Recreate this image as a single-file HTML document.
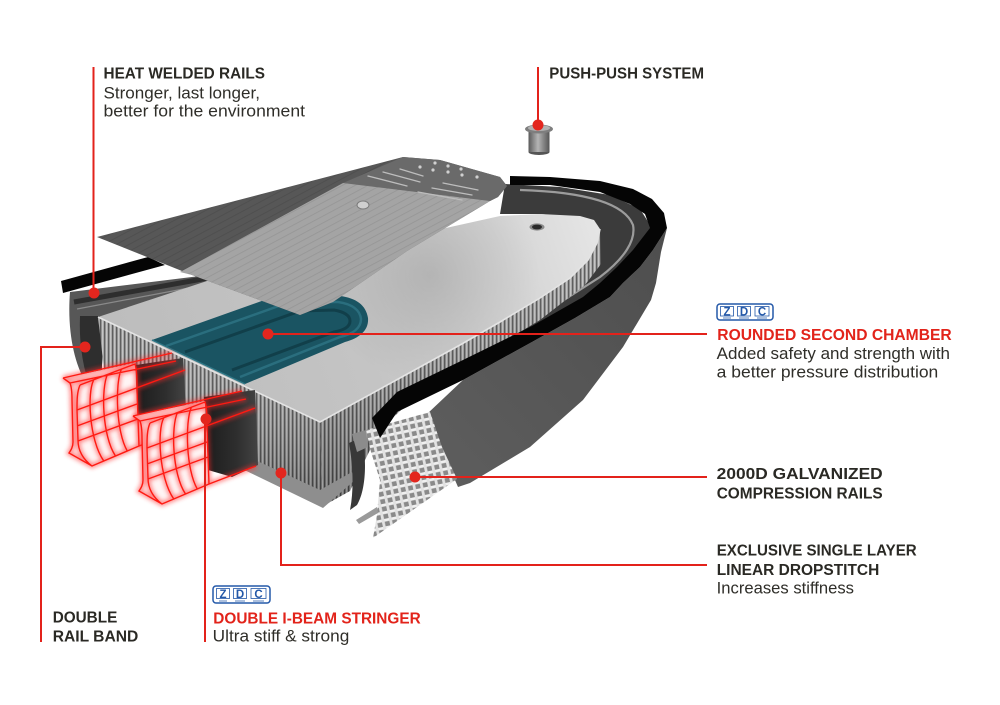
<!DOCTYPE html>
<html><head><meta charset="utf-8"><style>
html,body{margin:0;padding:0;background:#fff;}
svg{display:block;}
text{font-family:"Liberation Sans",Arial,sans-serif;}
.h{font-weight:bold;font-size:16px;fill:#2a2924;}
.r{fill:#e2231a;}
.b{font-size:16.5px;fill:#2f2e29;}
</style></head><body>
<svg width="1000" height="705" viewBox="0 0 1000 705" xmlns="http://www.w3.org/2000/svg">
<defs>
  <pattern id="stripes" width="4" height="20" patternUnits="userSpaceOnUse">
    <rect width="4" height="20" fill="#979797"/>
    <rect x="0" width="1.2" height="20" fill="#505050"/>
    <rect x="2.2" width="1" height="20" fill="#cdcdcd"/>
  </pattern>
  <pattern id="mesh" width="7.5" height="7.5" patternUnits="userSpaceOnUse" patternTransform="rotate(-12)">
    <rect width="7.5" height="7.5" fill="#8a8a8a"/>
    <rect y="2.5" width="7.5" height="2.8" fill="#f0f0f0"/>
    <rect x="2.5" width="2.8" height="7.5" fill="#e2e2e2"/>
  </pattern>
  <pattern id="padlines" width="6" height="6" patternUnits="userSpaceOnUse" patternTransform="rotate(-28)">
    <rect width="6" height="6" fill="#a4a4a4"/>
    <rect y="0" width="6" height="0.8" fill="#959595"/>
  </pattern>
  <pattern id="padlinesD" width="6" height="6" patternUnits="userSpaceOnUse" patternTransform="rotate(-28)">
    <rect width="6" height="6" fill="#575757"/>
    <rect y="0" width="6" height="0.8" fill="#4d4d4d"/>
  </pattern>
  <linearGradient id="ct" x1="100" y1="390" x2="600" y2="220" gradientUnits="userSpaceOnUse">
    <stop offset="0" stop-color="#bcbcbc"/>
    <stop offset="0.5" stop-color="#c4c4c4"/>
    <stop offset="0.8" stop-color="#d4d4d4"/>
    <stop offset="1" stop-color="#e6e6e6"/>
  </linearGradient>
  <radialGradient id="ctShade" cx="430" cy="275" r="110" gradientUnits="userSpaceOnUse">
    <stop offset="0" stop-color="#000" stop-opacity="0.12"/>
    <stop offset="1" stop-color="#000" stop-opacity="0"/>
  </radialGradient>
  <linearGradient id="sideShade" x1="0" y1="0" x2="0" y2="1">
    <stop offset="0" stop-color="#fff" stop-opacity="0.08"/>
    <stop offset="1" stop-color="#000" stop-opacity="0.28"/>
  </linearGradient>
  <linearGradient id="valve" x1="0" y1="0" x2="1" y2="0">
    <stop offset="0" stop-color="#5a5a5a"/>
    <stop offset="0.45" stop-color="#b4b4b4"/>
    <stop offset="1" stop-color="#555"/>
  </linearGradient>
  <linearGradient id="body" x1="0" y1="0" x2="1" y2="0">
    <stop offset="0" stop-color="#1c1c1c"/>
    <stop offset="0.6" stop-color="#2e2e2e"/>
    <stop offset="1" stop-color="#444"/>
  </linearGradient>
  <linearGradient id="shellG" x1="0" y1="1" x2="1" y2="0">
    <stop offset="0" stop-color="#5e5e5e"/>
    <stop offset="1" stop-color="#4e4e4e"/>
  </linearGradient>
  <filter id="glow" x="-30%" y="-30%" width="160%" height="160%">
    <feGaussianBlur stdDeviation="2.2"/>
  </filter>
  <path id="wfFill" d="M63,378 L135,363 L139,446 L92,466 L69,453 C73,440 73,398 70,384 Z"/>
  <path id="wfLines" fill="none" d="M63,378 L70,383 C72,388 72,395 72,400 L73,442 C73,447 71,450 69,453 L92,466 L139,446
    M63,378 L172,353
    M70,383 L176,361
    M80,385 C77,392 77,400 77,410 L78,440 C78,452 84,460 92,466
    M80,385 L135,364 C137,370 137,380 137,390 L139,446
    M93.8,379.8 C87,392 89,440 103.8,461
    M107.5,374.5 C101,388 102,436 115.5,456
    M121.3,369.3 C115,384 116,432 127.3,451
    M77,410 L185,370
    M77,426 L137,404
    M78,441 L138,419
    M139,446 L186,428"/>
</defs>

<!-- outer shell -->
<path d="M427,414 L463,380 L532,342 L575,318 L610,297 L623,283 L640,267 L653,250 L667,228 L661,252 L656,283 L651,300 L623,347 L583,400 L530,447 L470,483 L458,487 L442,450 Z" fill="url(#shellG)"/>

<!-- inner dark region -->
<path d="M505,184 L560,187 L610,195 L640,209 L652,228 L636,250 L620,267 L603,283 L585,297 L532,328 L463,362 L397,394 L370,420 L345,445 L330,430 L400,380 L500,322 L560,285 L596,245 L598,226 L585,218 L540,214 L500,214 Z" fill="#3b3b3b"/>
<path d="M520,190 C590,192 625,205 633,225 C636,240 625,258 600,277 L545,312 L470,350 L400,386 L370,410" fill="none" stroke="#9c9c9c" stroke-width="2.2"/>

<!-- left shell -->
<path d="M70,292 L208,275 L214,283 L100,318 L103,350 L101,382 L85,381 C74,362 67,330 70,292 Z" fill="#575757"/>
<path d="M80,316 L100,316 L103,350 L101,380 L88,381 C82,362 79,340 80,316 Z" fill="#2e2e2e"/>
<path d="M74,302 L208,278" stroke="#2e2e2e" stroke-width="5"/>
<path d="M77,309 L210,284" stroke="#8a8a8a" stroke-width="1.2"/>
<!-- black strip left -->
<path d="M61,281 L148,257 L165,265 L63,293 Z" fill="#050505"/>

<!-- core side face -->
<path d="M320,422 L400,378 L460,345 L500,322 L540,298 L570,278 L588,260 L597,243 L600,230 L601,264 L585,285 L540,320 L480,356 L420,392 L380,430 L360,470 L350,491 L323,506 Z" fill="url(#stripes)"/>
<path d="M320,422 L400,378 L460,345 L500,322 L540,298 L570,278 L588,260 L597,243 L600,230 L601,264 L585,285 L540,320 L480,356 L420,392 L380,430 L360,470 L350,491 L323,506 Z" fill="url(#sideShade)"/>
<!-- core front face -->
<path d="M98,317 L320,422 L323,506 L108,404 Z" fill="url(#stripes)"/>
<path d="M98,317 L320,422 L323,506 L108,404 Z" fill="url(#sideShade)"/>
<!-- bottom plate -->
<path d="M108,392 L320,490 L352,472 L355,480 L323,508 L108,404 Z" fill="#8e8e8e"/>

<!-- core top -->
<path d="M98,317 L207,281 L500,216 L540,214 L580,216 L594,220 L600,229 L597,243 L588,260 L570,278 L540,298 L500,322 L460,345 L400,378 L320,422 Z" fill="url(#ct)"/>
<path d="M98,317 L207,281 L500,216 L540,214 L580,216 L594,220 L600,229 L597,243 L588,260 L570,278 L540,298 L500,322 L460,345 L400,378 L320,422 Z" fill="url(#ctShade)"/>
<path d="M98,317 L320,422 L400,378 L460,345 L500,322 L540,298 L570,278 L588,260 L597,243 L600,229" fill="none" stroke="#e4e4e4" stroke-width="1.6"/>
<ellipse cx="537" cy="227" rx="7.5" ry="3.6" fill="#8a8a8a"/>
<ellipse cx="537" cy="227" rx="5" ry="2.4" fill="#2a2a2a"/>

<!-- teal chamber -->
<path d="M152,340 L270,298 L340,296 C356,298 366,305 368,318 C369,330 360,338 345,342 L245,384 Z" fill="#1a5462"/>
<path d="M166,346 L290,302 L338,302 C352,304 360,310 361,319 C361,328 353,334 340,337 L240,377" fill="none" stroke="#2a6e7e" stroke-width="2.5"/>
<path d="M185,352 L300,311 L334,310 C345,312 350,316 350,321 C350,327 344,330 334,332 L232,370" fill="none" stroke="#113f4a" stroke-width="3"/>
<path d="M152,340 L245,384" stroke="#2f7786" stroke-width="1.5"/>

<!-- deck pad -->
<path d="M97,237 L403,157 L440,160 L500,177 L507,186 L498,197 L490,201 L407,251 L333,302 L300,315 L192,275 L167,265 Z" fill="url(#padlinesD)"/>
<path d="M343,183 L403,157 L440,160 L500,177 L507,186 L498,197 L490,201 Z" fill="#6a6a6a"/>
<path d="M180,272 L343,183 L490,201 L407,251 L333,302 L300,315 L192,275 Z" fill="url(#padlines)"/>
<g stroke="#bdbdbd" stroke-width="1.3" stroke-linecap="round">
  <line x1="368" y1="176" x2="407" y2="186"/>
  <line x1="383" y1="172" x2="420" y2="182"/>
  <line x1="400" y1="169" x2="423" y2="176"/>
  <line x1="418" y1="192" x2="462" y2="200"/>
  <line x1="432" y1="188" x2="472" y2="195"/>
  <line x1="443" y1="183" x2="478" y2="190"/>
</g>
<g fill="#d0d0d0">
  <circle cx="420" cy="167" r="1.6"/><circle cx="433" cy="170" r="1.6"/><circle cx="448" cy="172" r="1.6"/>
  <circle cx="462" cy="175" r="1.6"/><circle cx="477" cy="177" r="1.6"/><circle cx="435" cy="163" r="1.6"/>
  <circle cx="448" cy="166" r="1.6"/><circle cx="461" cy="169" r="1.6"/>
</g>
<ellipse cx="363" cy="205" rx="6" ry="4" fill="#cfcfcf" stroke="#7a7a7a" stroke-width="1"/>

<!-- mesh and flaps -->
<path d="M366,430 L430,412 L442,447 L457,479 L373,538 L377,515 L380,480 L371,452 Z" fill="url(#mesh)"/>
<path d="M349,443 L362,437 C367,460 366,490 357,505 L350,510 C354,490 353,465 349,443 Z" fill="#383838"/>
<path d="M352,434 L366,430 L368,447 L357,452 Z" fill="#8c8c8c"/>
<path d="M356,520 L377,507 L378,513 L359,524 Z" fill="#9a9a9a"/>

<!-- black band -->
<path d="M510,176 L550,177 L600,181 L633,189 L652,199 L664,213 L667,228 L653,250 L640,267 L623,283 L610,297 L575,318 L532,342 L463,380 L397,412 L380,438 L372,418 L397,392 L463,360 L532,326 L583,297 L600,283 L617,267 L633,250 L650,228 L645,214 L630,204 L600,192 L550,185 L510,185 Z" fill="#050505"/>

<!-- I-beam bodies -->
<path d="M136,365 L183,358 L186,412 L150,432 L138,420 Z" fill="url(#body)"/>
<path d="M204,397 L255,390 L258,465 L232,477 L208,470 Z" fill="url(#body)"/>

<!-- wireframe 1 -->
<use href="#wfFill" fill="#fff4f4"/>
<use href="#wfLines" stroke="#ff2a2a" stroke-width="4.5" opacity="0.55" filter="url(#glow)"/>
<use href="#wfLines" stroke="#ff1a12" stroke-width="1.4"/>
<!-- wireframe 2 -->
<g transform="translate(70,38)">
  <use href="#wfFill" fill="#fff4f4"/>
  <use href="#wfLines" stroke="#ff2a2a" stroke-width="4.5" opacity="0.55" filter="url(#glow)"/>
  <use href="#wfLines" stroke="#ff1a12" stroke-width="1.4"/>
</g>

<!-- push valve -->
<ellipse cx="539" cy="152" rx="10.5" ry="3" fill="#555"/>
<rect x="528.5" y="131" width="21" height="21" fill="url(#valve)"/>
<ellipse cx="539" cy="129" rx="14" ry="4.5" fill="#7e7e7e"/>
<ellipse cx="539" cy="128" rx="11" ry="3" fill="#b2b2b2"/>

<!-- callout lines -->
<g stroke="#e3221b" stroke-width="2" fill="none">
  <path d="M93.5,67 L93.5,293"/>
  <path d="M538,67 L538,125"/>
  <path d="M268,334 L707,334"/>
  <path d="M415,477 L707,477"/>
  <path d="M281,473 L281,565 L707,565"/>
  <path d="M85,347 L41,347 L41,642"/>
  <path d="M205,419 L205,642"/>
</g>
<g fill="#e3261e">
  <circle cx="94" cy="293" r="5.5"/>
  <circle cx="538" cy="125" r="5.5"/>
  <circle cx="268" cy="334" r="5.5"/>
  <circle cx="415" cy="477" r="5.5"/>
  <circle cx="281" cy="473" r="5.5"/>
  <circle cx="85" cy="347" r="5.5"/>
  <circle cx="206" cy="419" r="5.5"/>
</g>

<!-- ZDC logos -->
<g>
  <rect x="717" y="304" width="56" height="16" rx="3" fill="#fff" stroke="#2458a8" stroke-width="1.5"/>
  <rect x="720.5" y="306.5" width="13" height="9.5" fill="none" stroke="#2458a8" stroke-width="0.8"/>
  <rect x="737.5" y="306.5" width="13" height="9.5" fill="none" stroke="#2458a8" stroke-width="0.8"/>
  <rect x="755" y="306.5" width="14" height="9.5" fill="none" stroke="#2458a8" stroke-width="0.8"/>
  <text x="727" y="315.5" text-anchor="middle" font-size="11.5" font-weight="bold" fill="#2458a8">Z</text>
  <text x="744" y="315.5" text-anchor="middle" font-size="11.5" font-weight="bold" fill="#2458a8">D</text>
  <text x="762" y="315.5" text-anchor="middle" font-size="11.5" font-weight="bold" fill="#2458a8">C</text>
  <path d="M723,318 L731,318 M739,318 L749,318 M757,318 L767,318" stroke="#2458a8" stroke-width="0.8"/>
</g>
<g>
  <rect x="213" y="586" width="57" height="17" rx="3" fill="#fff" stroke="#2458a8" stroke-width="1.5"/>
  <rect x="216.5" y="588.5" width="13" height="10" fill="none" stroke="#2458a8" stroke-width="0.8"/>
  <rect x="233.5" y="588.5" width="13" height="10" fill="none" stroke="#2458a8" stroke-width="0.8"/>
  <rect x="251" y="588.5" width="15" height="10" fill="none" stroke="#2458a8" stroke-width="0.8"/>
  <text x="223" y="598" text-anchor="middle" font-size="11.5" font-weight="bold" fill="#2458a8">Z</text>
  <text x="240" y="598" text-anchor="middle" font-size="11.5" font-weight="bold" fill="#2458a8">D</text>
  <text x="258.5" y="598" text-anchor="middle" font-size="11.5" font-weight="bold" fill="#2458a8">C</text>
  <path d="M219,601 L227,601 M235,601 L245,601 M253,601 L264,601" stroke="#2458a8" stroke-width="0.8"/>
</g>

<!-- labels -->
<text class="h" x="103.5" y="78.3" textLength="161.5" lengthAdjust="spacingAndGlyphs">HEAT WELDED RAILS</text>
<text class="b" x="103.5" y="98.3" textLength="156.5" lengthAdjust="spacingAndGlyphs">Stronger, last longer,</text>
<text class="b" x="103.5" y="116.7" textLength="201.5" lengthAdjust="spacingAndGlyphs">better for the environment</text>

<text class="h" x="549.3" y="78.3" textLength="154.7" lengthAdjust="spacingAndGlyphs">PUSH-PUSH SYSTEM</text>

<text class="h r" x="717.3" y="340" textLength="234.4" lengthAdjust="spacingAndGlyphs">ROUNDED SECOND CHAMBER</text>
<text class="b" x="716.7" y="359" textLength="233.3" lengthAdjust="spacingAndGlyphs">Added safety and strength with</text>
<text class="b" x="716.7" y="377.7" textLength="221.6" lengthAdjust="spacingAndGlyphs">a better pressure distribution</text>

<text class="h" x="716.7" y="479" textLength="166" lengthAdjust="spacingAndGlyphs">2000D GALVANIZED</text>
<text class="h" x="716.7" y="498.3" textLength="166" lengthAdjust="spacingAndGlyphs">COMPRESSION RAILS</text>

<text class="h" x="716.7" y="555.7" textLength="200" lengthAdjust="spacingAndGlyphs">EXCLUSIVE SINGLE LAYER</text>
<text class="h" x="716.7" y="575" textLength="162.6" lengthAdjust="spacingAndGlyphs">LINEAR DROPSTITCH</text>
<text class="b" x="716.7" y="593.3" textLength="137.3" lengthAdjust="spacingAndGlyphs">Increases stiffness</text>

<text class="h" x="52.7" y="622.7" textLength="64.6" lengthAdjust="spacingAndGlyphs">DOUBLE</text>
<text class="h" x="52.7" y="641.7" textLength="85.6" lengthAdjust="spacingAndGlyphs">RAIL BAND</text>

<text class="h r" x="213.3" y="623.3" textLength="207.4" lengthAdjust="spacingAndGlyphs">DOUBLE I-BEAM STRINGER</text>
<text class="b" x="212.7" y="641.7" textLength="136.6" lengthAdjust="spacingAndGlyphs">Ultra stiff &amp; strong</text>
</svg>
</body></html>
